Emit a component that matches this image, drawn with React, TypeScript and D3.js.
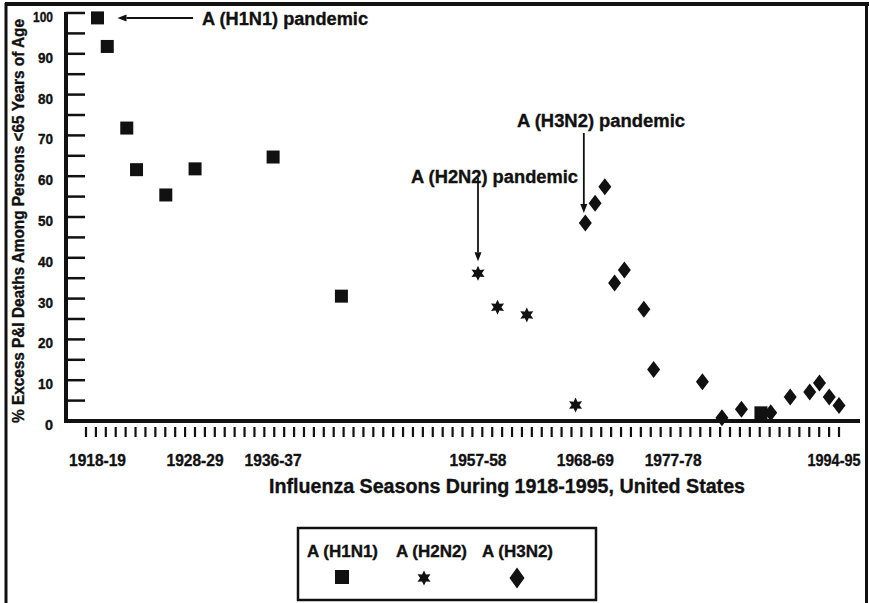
import React from "react";
import * as d3 from "d3";

// Season start years (1918 = 1918-19) and % excess P&I deaths among persons <65
const h1n1Seasons = [1918, 1919, 1921, 1922, 1925, 1928, 1936, 1943, 1986];
const h1n1Values = [98.8, 91.8, 71.8, 61.6, 55.4, 61.8, 64.7, 30.6, 2.0];

const h2n2Seasons = [1957, 1959, 1962, 1967];
const h2n2Values = [36.2, 27.9, 26.0, 3.9];

const h3n2Seasons = [1968, 1969, 1970, 1971, 1972, 1974, 1975, 1980, 1982, 1984, 1987, 1989, 1991, 1992, 1993, 1994];
const h3n2Values = [48.5, 53.4, 57.4, 33.8, 37.0, 27.4, 12.6, 9.6, 0.8, 2.9, 2.0, 5.9, 7.1, 9.3, 5.9, 3.8];

const tickSeasons = [1918, 1928, 1936, 1957, 1968, 1977, 1994];
const tickLabels = ["1918-19", "1928-29", "1936-37", "1957-58", "1968-69", "1977-78", "1994-95"];
const yLabels = [0, 10, 20, 30, 40, 50, 60, 70, 80, 90, 100];

const legendNames = ["A (H1N1)", "A (H2N2)", "A (H3N2)"];

const font = "'Liberation Sans', Arial, Helvetica, sans-serif";
const ink = "#111";

const W = 869;
const H = 603;

const x = d3.scaleLinear().domain([1918, 1994]).range([97.5, 839]);
const xTicks = d3.scaleLinear().domain([1918, 1994]).range([86, 839]);
const y = d3.scaleLinear().domain([0, 100]).range([421, 13]);

const starPath = (r1: number, r2: number) =>
  d3
    .lineRadial<number>()
    .angle((_, i) => (i * Math.PI) / 6)
    .radius((d) => d)
    .curve(d3.curveLinearClosed)(d3.range(12).map((i) => (i % 2 ? r2 : r1))) as string;

const diamondPath = (w: number, h: number) => `M0,${-h}L${w},0L0,${h}L${-w},0Z`;

const Square = ({ cx, cy, s = 13 }: { cx: number; cy: number; s?: number }) => (
  <rect x={cx - s / 2} y={cy - s / 2} width={s} height={s} fill={ink} />
);
const Star = ({ cx, cy, r = 7.5 }: { cx: number; cy: number; r?: number }) => (
  <path transform={`translate(${cx},${cy})`} d={starPath(r, r * 0.52)} fill={ink} />
);
const Diamond = ({ cx, cy, w = 6.5, h = 8.5 }: { cx: number; cy: number; w?: number; h?: number }) => (
  <path transform={`translate(${cx},${cy})`} d={diamondPath(w, h)} fill={ink} />
);

const Arrow = ({ x1, y1, x2, y2 }: { x1: number; y1: number; x2: number; y2: number }) => {
  const ang = Math.atan2(y2 - y1, x2 - x1);
  const len = 9;
  const hw = 3.5;
  const bx = x2 - len * Math.cos(ang);
  const by = y2 - len * Math.sin(ang);
  const px = -Math.sin(ang) * hw;
  const py = Math.cos(ang) * hw;
  return (
    <g>
      <line x1={x1} y1={y1} x2={bx} y2={by} stroke={ink} strokeWidth={1.8} />
      <path d={`M${x2},${y2}L${bx + px},${by + py}L${bx - px},${by - py}Z`} fill={ink} />
    </g>
  );
};

// heavy, slightly condensed label text like the scanned original
const T = (props: any) => (
  <text fill={ink} stroke={ink} strokeWidth={0.35} lengthAdjust="spacingAndGlyphs" {...props} />
);

export default function App() {
  const yTicks = d3.range(0, 101, 5);
  const seasonTicks = d3.range(1918, 1995);
  const legendX = [342, 424, 517];
  const last = tickSeasons.length - 1;

  return (
    <svg
      width={W}
      height={H}
      style={{ position: "absolute", left: 0, top: 0, background: "#fff" }}
      fontFamily={font}
      fontWeight="bold"
    >
      {/* frame */}
      <line x1={5} y1={4} x2={W} y2={4} stroke={ink} strokeWidth={4} />
      <line x1={6} y1={3} x2={6} y2={H} stroke={ink} strokeWidth={3} />
      <line x1={866.5} y1={3} x2={866.5} y2={H} stroke={ink} strokeWidth={3} />

      {/* y axis */}
      <line x1={66} y1={y(100) - 1} x2={66} y2={y(0) + 1.5} stroke={ink} strokeWidth={4} />
      {yTicks.map((t) => (
        <line key={t} x1={66} x2={85} y1={y(t)} y2={y(t)} stroke={ink} strokeWidth={2.5} />
      ))}
      {yLabels.map((t) => (
        <T key={t} x={53} y={y(t) + 9} textAnchor="end" fontSize={14} textLength={t === 100 ? 20 : t === 0 ? 8 : 15}>
          {t}
        </T>
      ))}
      <T
        transform={`translate(24,221) rotate(-90)`}
        textAnchor="middle"
        fontSize={16}
        textLength={404}
      >
        % Excess P&amp;I Deaths Among Persons &lt;65 Years of Age
      </T>

      {/* x axis */}
      <line x1={64} x2={860} y1={y(0)} y2={y(0)} stroke={ink} strokeWidth={4} />
      {seasonTicks.map((s) => (
        <line key={s} x1={xTicks(s)} x2={xTicks(s)} y1={427} y2={437} stroke={ink} strokeWidth={2.2} />
      ))}
      {tickSeasons.map((s, i) => (
        <T
          key={s}
          x={i === last ? x(s) - 5 : x(s)}
          y={466}
          textAnchor="middle"
          fontSize={17}
          textLength={i === last ? 53 : 57}
        >
          {tickLabels[i]}
        </T>
      ))}
      <T x={507} y={493} textAnchor="middle" fontSize={19.5} textLength={476}>
        Influenza Seasons During 1918-1995, United States
      </T>

      {/* data */}
      {h1n1Seasons.map((s, i) => (
        <Square key={`a${s}`} cx={x(s)} cy={y(h1n1Values[i])} />
      ))}
      {h2n2Seasons.map((s, i) => (
        <Star key={`b${s}`} cx={x(s)} cy={y(h2n2Values[i])} />
      ))}
      {h3n2Seasons.map((s, i) => (
        <Diamond key={`c${s}`} cx={x(s)} cy={y(h3n2Values[i])} />
      ))}

      {/* annotations */}
      <Arrow x1={193} y1={18} x2={x(1918) + 20} y2={18} />
      <T x={202} y={25} fontSize={18} textLength={166}>
        A (H1N1) pandemic
      </T>

      <T x={411} y={183} fontSize={18} textLength={167}>
        A (H2N2) pandemic
      </T>
      <Arrow x1={x(1957)} y1={178} x2={x(1957)} y2={y(h2n2Values[0]) - 12} />

      <T x={517} y={127} fontSize={18} textLength={168}>
        A (H3N2) pandemic
      </T>
      <Arrow x1={x(1968) - 1.5} y1={133} x2={x(1968) - 1.5} y2={y(h3n2Values[0]) - 10} />

      {/* legend */}
      <rect x={298} y={528} width={298} height={72} fill="none" stroke={ink} strokeWidth={2.5} />
      {legendNames.map((n, i) => (
        <T key={n} x={[307, 396, 482][i]} y={557} fontSize={16} textLength={71}>
          {n}
        </T>
      ))}
      <Square cx={legendX[0]} cy={577} s={14} />
      <Star cx={legendX[1]} cy={578} r={7.5} />
      <Diamond cx={legendX[2]} cy={578} w={7.5} h={10.5} />
    </svg>
  );
}
